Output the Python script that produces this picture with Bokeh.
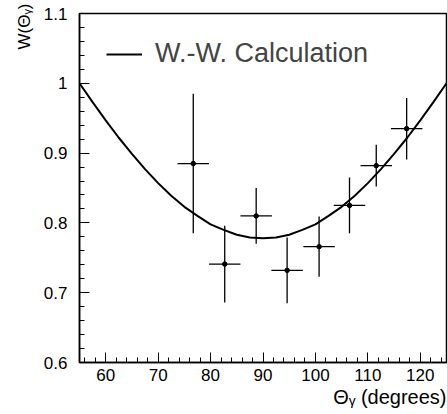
import numpy as np
from bokeh.plotting import figure
from bokeh.models import ColumnDataSource, FixedTicker, Range1d, Title
from bokeh.embed import file_html
from bokeh.resources import INLINE

# ---- data ----
theta = [76.7, 82.7, 88.7, 94.6, 100.7, 106.5, 111.6, 117.4]
theta_err = [3.0, 3.0, 3.0, 3.0, 3.0, 3.0, 3.0, 3.0]
w_meas = [0.885, 0.741, 0.810, 0.732, 0.766, 0.825, 0.882, 0.935]
w_err = [0.100, 0.055, 0.040, 0.047, 0.043, 0.040, 0.030, 0.044]

theta_calc = [55, 57.5, 60, 62.5, 65, 67.5, 70, 72.5, 75, 77.5, 80, 82.5, 85, 87.5,
              90, 92.5, 95, 97.5, 100, 102.5, 105, 107.5, 110, 112.5, 115, 117.5,
              120, 122.5, 125]
w_calc = [1.000, 0.973, 0.947, 0.922, 0.899, 0.877, 0.857, 0.839, 0.823, 0.810,
          0.798, 0.790, 0.783, 0.779, 0.778, 0.779, 0.783, 0.790, 0.798, 0.810,
          0.823, 0.839, 0.857, 0.877, 0.899, 0.922, 0.947, 0.973, 1.000]

x_ticks = [60, 70, 80, 90, 100, 110, 120]
x_minor = [56, 58, 62, 64, 66, 68, 72, 74, 76, 78, 82, 84, 86, 88, 92, 94, 96, 98,
           102, 104, 106, 108, 112, 114, 116, 118, 122, 124]
y_ticks = [0.6, 0.7, 0.8, 0.9, 1.0, 1.1]
y_tick_labels = ["0.6", "0.7", "0.8", "0.9", "1", "1.1"]
y_minor = [0.62, 0.64, 0.66, 0.68, 0.72, 0.74, 0.76, 0.78, 0.82, 0.84, 0.86, 0.88,
           0.92, 0.94, 0.96, 0.98, 1.02, 1.04, 1.06, 1.08]

FONT = "Liberation Sans"

p = figure(width=447, height=414, output_backend="svg", toolbar_location=None,
           x_range=Range1d(55, 125), y_range=Range1d(0.6, 1.1),
           min_border_left=79, min_border_right=1, min_border_top=13,
           min_border_bottom=52)
p.grid.visible = False
p.background_fill_color = "white"
p.border_fill_color = "white"
p.outline_line_color = "black"
p.outline_line_width = 1.5

for ax in (p.xaxis[0], p.yaxis[0]):
    ax.axis_line_color = "black"
    ax.axis_line_width = 1.5
    ax.major_tick_in = 10
    ax.major_tick_out = 0
    ax.minor_tick_in = 5
    ax.minor_tick_out = 0
    ax.major_tick_line_color = "black"
    ax.minor_tick_line_color = "black"
    ax.major_label_text_font = FONT
    ax.major_label_text_font_size = "17px"
    ax.major_label_text_color = "black"

p.xaxis.ticker = FixedTicker(ticks=x_ticks, minor_ticks=x_minor)
p.yaxis.ticker = FixedTicker(ticks=y_ticks, minor_ticks=y_minor)
p.yaxis.major_label_overrides = {t: s for t, s in zip(y_ticks, y_tick_labels)}
p.xaxis.major_label_standoff = 6
p.yaxis.major_label_standoff = 12

# calculation curve
p.line(theta_calc, w_calc, line_color="black", line_width=2,
       legend_label="W.-W. Calculation")

# data with error bars
th = np.array(theta)
the = np.array(theta_err)
w = np.array(w_meas)
we = np.array(w_err)
src = ColumnDataSource(dict(x=th, y=w, xl=th - the, xr=th + the, yl=w - we, yh=w + we))
p.segment(x0="xl", y0="y", x1="xr", y1="y", source=src, line_color="black", line_width=1.3)
p.segment(x0="x", y0="yl", x1="x", y1="yh", source=src, line_color="black", line_width=1.3)
p.scatter(x="x", y="y", source=src, size=4.5, color="black")

leg = p.legend[0]
leg.location = (27, 293)
leg.padding = 0
leg.margin = 0
leg.border_line_alpha = 0
leg.background_fill_alpha = 0
leg.glyph_width = 36
leg.label_standoff = 13
leg.label_text_font = FONT
leg.label_text_font_size = "27px"

# axis titles (right / top aligned like the reference)
p.add_layout(Title(text="Θᵧ (degrees)", align="right", text_font=FONT,
                   text_font_size="20px", text_font_style="normal",
                   text_color="black", standoff=0, offset=0), "below")
p.add_layout(Title(text="W(Θᵧ)", align="right", text_font=FONT,
                   text_font_size="17px", text_font_style="normal",
                   text_color="black", standoff=14, offset=-10), "left")

open("out.html", "w").write(file_html(p, INLINE))
